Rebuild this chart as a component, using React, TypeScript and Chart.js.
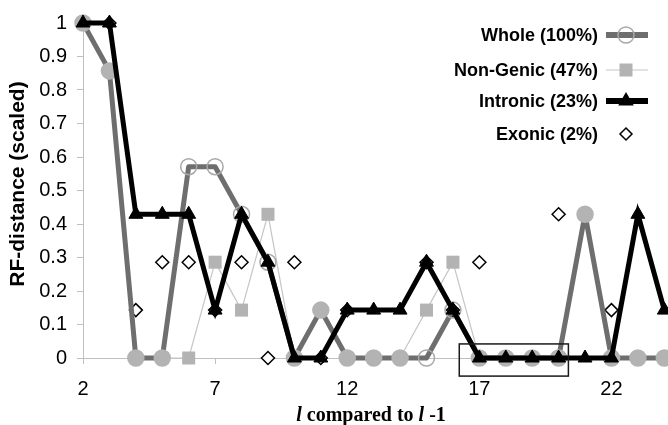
import React, { useEffect, useRef } from "react";
import { Chart, registerables } from "chart.js";

Chart.register(...registerables);

// ---- data ----
const lValues = [2, 3, 4, 5, 6, 7, 8, 9, 10, 11, 12, 13, 14, 15, 16, 17, 18, 19, 20, 21, 22, 23, 24];
const whole = [1, 0.857, 0, 0, 0.571, 0.571, 0.429, 0.286, 0, 0.143, 0, 0, 0, 0, 0.143, 0, 0, 0, 0, 0.429, 0, 0, 0];
const nonGenic = [1, 0.857, 0, 0, 0, 0.286, 0.143, 0.429, 0, 0.143, 0, 0, 0, 0.143, 0.286, 0, 0, 0, 0, 0.429, 0, 0, 0];
const intronic = [1, 1, 0.429, 0.429, 0.429, 0.143, 0.429, 0.286, 0, 0, 0.143, 0.143, 0.143, 0.286, 0.143, 0, 0, 0, 0, 0, 0, 0.429, 0.143];
const exonic = [1, 1, 0.143, 0.286, 0.286, 0.143, 0.286, 0, 0.286, 0, 0.143, 0, 0, 0.286, 0.143, 0.286, 0, 0, 0.429, 0.429, 0.143, 0, 0];

const seriesNames = ["Whole (100%)", "Non-Genic (47%)", "Intronic (23%)", "Exonic (2%)"];
const xTicks = [2, 7, 12, 17, 22];
const yTicks = [0, 0.1, 0.2, 0.3, 0.4, 0.5, 0.6, 0.7, 0.8, 0.9, 1];
const yTickLabels = ["0", "0.1", "0.2", "0.3", "0.4", "0.5", "0.6", "0.7", "0.8", "0.9", "1"];
const yTitle = "RF-distance (scaled)";
const xTitleParts: [string, boolean][] = [["l", true], [" compared to ", false], ["l", true], [" -1", false]];
// highlighted region (l from 17 to 20, value 0)
const boxX = [16.24, 20.37];
const boxY = [-0.054, 0.042];

// ---- styles ----
const WHOLE_LINE = "#6e6e6e";
const LIGHT_FILL = "#b3b3b3";
const HOLLOW_BORDER = "#a8a8a8";
const NG_LINE = "#c6c6c6";
const AXIS_COL = "#c0c0c0";
const SANS = "'Liberation Sans', Arial, sans-serif";
const SERIF = "'Liberation Serif', 'Times New Roman', serif";

const pts = (arr: number[]) => lValues.map((l, i) => ({ x: l, y: arr[i] }));

function drawMarker(ctx: CanvasRenderingContext2D, kind: string, x: number, y: number) {
  ctx.save();
  ctx.beginPath();
  if (kind === "hollow") {
    ctx.arc(x, y, 8, 0, Math.PI * 2);
    ctx.strokeStyle = HOLLOW_BORDER;
    ctx.lineWidth = 1.5;
    ctx.stroke();
  } else if (kind === "square") {
    ctx.fillStyle = LIGHT_FILL;
    ctx.fillRect(x - 6.5, y - 6.5, 13, 13);
  } else if (kind === "triangle") {
    const r = 9;
    ctx.moveTo(x, y - r);
    ctx.lineTo(x + r * 0.866, y + r * 0.5);
    ctx.lineTo(x - r * 0.866, y + r * 0.5);
    ctx.closePath();
    ctx.fillStyle = "#000";
    ctx.fill();
  } else if (kind === "diamond") {
    const r = 6;
    ctx.moveTo(x, y - r);
    ctx.lineTo(x + r, y);
    ctx.lineTo(x, y + r);
    ctx.lineTo(x - r, y);
    ctx.closePath();
    ctx.fillStyle = "#fff";
    ctx.fill();
    ctx.strokeStyle = "#000";
    ctx.lineWidth = 1.5;
    ctx.stroke();
  }
  ctx.restore();
}

const overlayPlugin = {
  id: "overlay",
  afterDraw(chart: any) {
    const ctx: CanvasRenderingContext2D = chart.ctx;
    const xs = chart.scales.x;
    const ys = chart.scales.y;

    // highlight box
    ctx.save();
    const bx0 = xs.getPixelForValue(boxX[0]);
    const bx1 = xs.getPixelForValue(boxX[1]);
    const by0 = ys.getPixelForValue(boxY[1]);
    const by1 = ys.getPixelForValue(boxY[0]);
    ctx.strokeStyle = "#1a1a1a";
    ctx.lineWidth = 1.5;
    ctx.strokeRect(bx0, by0, bx1 - bx0, by1 - by0);
    ctx.restore();

    // y title
    ctx.save();
    ctx.translate(18, 184);
    ctx.rotate(-Math.PI / 2);
    ctx.font = `bold 21px ${SANS}`;
    ctx.fillStyle = "#000";
    ctx.textAlign = "center";
    ctx.textBaseline = "middle";
    ctx.fillText(yTitle, 0, 0);
    ctx.restore();

    // x title (mixed italic)
    ctx.save();
    ctx.fillStyle = "#000";
    ctx.textBaseline = "alphabetic";
    const fontFor = (it: boolean) => `${it ? "italic " : ""}bold 20px ${SERIF}`;
    let total = 0;
    for (const [t, it] of xTitleParts) {
      ctx.font = fontFor(it);
      total += ctx.measureText(t).width;
    }
    let cx = 371 - total / 2;
    for (const [t, it] of xTitleParts) {
      ctx.font = fontFor(it);
      ctx.textAlign = "left";
      ctx.fillText(t, cx, 421);
      cx += ctx.measureText(t).width;
    }
    ctx.restore();

    // legend
    const rows = [35, 70, 101, 134];
    const kinds = ["hollow", "square", "triangle", "diamond"];
    const lines: [string, number][] = [[WHOLE_LINE, 6], [NG_LINE, 1.2], ["#000", 6], ["", 0]];
    ctx.save();
    ctx.font = `bold 18px ${SANS}`;
    ctx.fillStyle = "#000";
    ctx.textAlign = "right";
    ctx.textBaseline = "middle";
    seriesNames.forEach((name, i) => {
      const y = rows[i];
      ctx.fillText(name, 598, y + 1);
      const [col, w] = lines[i];
      if (w > 0) {
        ctx.save();
        ctx.beginPath();
        ctx.strokeStyle = col;
        ctx.lineWidth = w;
        ctx.moveTo(606, y);
        ctx.lineTo(648, y);
        ctx.stroke();
        ctx.restore();
      }
      drawMarker(ctx, kinds[i], 626, y);
    });
    ctx.restore();
  },
};

export default function App() {
  const ref = useRef<HTMLCanvasElement | null>(null);

  useEffect(() => {
    if (!ref.current) return;
    const wholeFill = whole.map((v, i) => (v === nonGenic[i] ? LIGHT_FILL : "rgba(0,0,0,0)"));
    const wholeBorder = whole.map((v, i) => (v === nonGenic[i] ? LIGHT_FILL : HOLLOW_BORDER));
    const ngRadius = nonGenic.map((v, i) => (v === whole[i] ? 0 : 9.2));

    const chart = new Chart(ref.current, {
      type: "line",
      data: {
        datasets: [
          {
            label: seriesNames[2],
            data: pts(intronic),
            borderColor: "#000",
            borderWidth: 5,
            pointStyle: "triangle",
            pointRadius: 8,
            pointBackgroundColor: "#000",
            pointBorderColor: "#000",
            pointBorderWidth: 1,
            order: 0,
            clip: false,
          },
          {
            label: seriesNames[0],
            data: pts(whole),
            borderColor: WHOLE_LINE,
            borderWidth: 5,
            borderJoinStyle: "round",
            pointStyle: "circle",
            pointRadius: 8,
            pointBackgroundColor: wholeFill,
            pointBorderColor: wholeBorder,
            pointBorderWidth: 1.5,
            order: 1,
            clip: false,
          },
          {
            label: seriesNames[1],
            data: pts(nonGenic),
            borderColor: NG_LINE,
            borderWidth: 1.2,
            pointStyle: "rect",
            pointRadius: ngRadius,
            pointBackgroundColor: LIGHT_FILL,
            pointBorderColor: LIGHT_FILL,
            pointBorderWidth: 0,
            order: 2,
            clip: false,
          },
          {
            label: seriesNames[3],
            data: pts(exonic),
            showLine: false,
            borderColor: "#000",
            pointStyle: "rectRot",
            pointRadius: 6.5,
            pointBackgroundColor: "#fff",
            pointBorderColor: "#000",
            pointBorderWidth: 1.5,
            order: 3,
            clip: false,
          },
        ] as any,
      },
      options: {
        animation: false,
        responsive: true,
        maintainAspectRatio: false,
        events: [],
        layout: { padding: { top: 23, left: 0, right: 0, bottom: 0 } },
        plugins: {
          legend: { display: false },
          tooltip: { enabled: false },
          title: { display: false },
        },
        scales: {
          x: {
            type: "linear",
            min: 2,
            max: 23.78,
            afterBuildTicks: (s: any) => {
              s.ticks = xTicks.map((v) => ({ value: v }));
            },
            afterFit: (s: any) => {
              s.height = 67;
              s.paddingLeft = 0;
              s.paddingRight = 0;
            },
            ticks: {
              autoSkip: false,
              maxRotation: 0,
              color: "#000",
              padding: 13,
              font: { family: SANS, size: 20 },
              callback: (v: any) => String(v),
            },
            grid: { drawOnChartArea: false, drawTicks: true, tickLength: 6, color: AXIS_COL },
            border: { display: true, color: AXIS_COL, width: 1 },
          },
          y: {
            type: "linear",
            min: 0,
            max: 1,
            afterBuildTicks: (s: any) => {
              s.ticks = yTicks.map((v) => ({ value: v }));
            },
            afterFit: (s: any) => {
              s.width = 83;
              s.paddingTop = 0;
              s.paddingBottom = 0;
            },
            ticks: {
              color: "#000",
              padding: 10,
              font: { family: SANS, size: 20 },
              callback: (_v: any, i: number) => yTickLabels[i],
            },
            grid: { drawOnChartArea: false, drawTicks: true, tickLength: 6, color: AXIS_COL },
            border: { display: true, color: AXIS_COL, width: 1 },
          },
        },
      } as any,
      plugins: [overlayPlugin],
    });
    return () => chart.destroy();
  }, []);

  return (
    <div style={{ position: "absolute", left: 0, top: 0, width: 668, height: 425, background: "#fff" }}>
      <canvas ref={ref} />
    </div>
  );
}
